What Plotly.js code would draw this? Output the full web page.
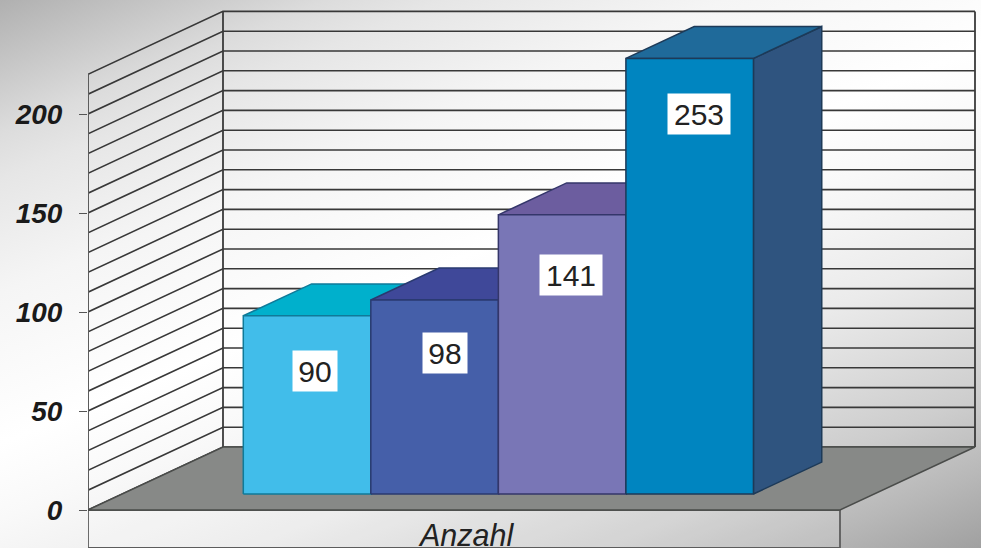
<!DOCTYPE html>
<html>
<head>
<meta charset="utf-8">
<script src="https://cdn.plot.ly/plotly-3.0.1.min.js"></script>
<style>
  html, body { margin: 0; padding: 0; width: 981px; height: 548px; overflow: hidden; }
  body { background: linear-gradient(158deg, #b0b0b0 0%, #dcdcdc 14%, #e6e6e6 19%, #f5f5f5 31%, #ffffff 47%, #f9f9f9 55%, #ebebeb 68%, #cdcdcd 84%, #b8b8b8 92%, #a0a0a0 100%); }
  #chart { width: 981px; height: 548px; }
</style>
</head>
<body>
<div id="chart"></div>
<script>
// Counts per group; the value axis stops at axisMax, so taller columns are cut off there.
const groupLabel = 'Anzahl';
const barValues = [90, 98, 141, 253];
const frontColors = ['#41bdea', '#455fa9', '#7976b6', '#0085c0'];
const topColors = ['#00b0cc', '#3f4899', '#6c5d9f', '#1f6a9a'];
const sideColors = ['#1f7fa8', '#33457f', '#544a86', '#2f547f'];
const edgeColors = ['#0f7a99', '#2a3a70', '#34366a', '#1d3a58'];
const labelDrop = [55, 53, 60, 56];
const labelShift = [8, 10.5, 9, 9];
const valueTicks = [0, 50, 100, 150, 200];
const axisMax = 220;
const gridStep = 10;

// Oblique projection: depth 0 is the front of the floor, depth 1 the back wall.
const depthX = 135 / 752;
const depthY = 63 / 1.98;
const barDepthStart = 0.254;
const barDepthEnd = 0.76;
const barWidth = 0.1696;
const barGroupStart = 0.1609;

function project(x, v, depth) {
  return [x + depth * depthX, v + depth * depthY];
}

function polygon(points, fill, edge, width) {
  return {
    type: 'scatter', mode: 'lines', hoverinfo: 'skip', cliponaxis: false,
    x: points.concat([points[0]]).map(p => p[0]),
    y: points.concat([points[0]]).map(p => p[1]),
    fill: 'toself', fillcolor: fill,
    line: { color: edge, width: width }
  };
}

function polyline(xs, ys, color, width) {
  return {
    type: 'scatter', mode: 'lines', hoverinfo: 'skip', cliponaxis: false,
    x: xs, y: ys, line: { color: color, width: width }
  };
}

const traces = [];

// Panel under the floor that carries the group label
const panelBottom = -19.2;
traces.push(polygon([[0, 0], [1, 0], [1, panelBottom], [0, panelBottom]], 'rgba(255,255,255,0.14)', '#5c5c5c', 1.8));

// Side wall and back wall rulings
const gx = [], gy = [];
for (let v = 0; v <= axisMax; v += gridStep) {
  const a = project(0, v, 0), b = project(0, v, 1), c = project(1, v, 1);
  gx.push(a[0], b[0], c[0], null);
  gy.push(a[1], b[1], c[1], null);
}
traces.push(polyline(gx, gy, '#383838', 1.6));
const wallEdges = [[0, 0, '#5c5c5c', 2], [0, 1, '#3a3a3a', 1.8], [1, 1, '#3a3a3a', 1.8]];
wallEdges.forEach(([x, d, color, width]) => {
  const a = project(x, 0, d), b = project(x, axisMax, d);
  traces.push(polyline([a[0], b[0]], [a[1], b[1]], color, width));
});

// Floor
traces.push(polygon([project(0, 0, 0), project(1, 0, 0), project(1, 0, 1), project(0, 0, 1)], '#878987', '#4a4c4a', 1.4));

// Columns, painted left to right so each one covers its neighbour's side
const annotations = [];
barValues.forEach((value, i) => {
  const h = Math.min(value, axisMax);
  const x0 = barGroupStart + i * barWidth;
  const x1 = x0 + barWidth;
  const d0 = barDepthStart, d1 = barDepthEnd;
  traces.push(polygon([project(x1, 0, d0), project(x1, 0, d1), project(x1, h, d1), project(x1, h, d0)], sideColors[i], edgeColors[i], 1.5));
  traces.push(polygon([project(x0, h, d0), project(x1, h, d0), project(x1, h, d1), project(x0, h, d1)], topColors[i], edgeColors[i], 1.5));
  traces.push(polygon([project(x0, 0, d0), project(x1, 0, d0), project(x1, h, d0), project(x0, h, d0)], frontColors[i], edgeColors[i], 1.5));

  const anchor = project((x0 + x1) / 2, h, d0);
  annotations.push({
    x: anchor[0], y: anchor[1], xref: 'x', yref: 'y',
    xshift: labelShift[i], yshift: -labelDrop[i], showarrow: false,
    text: String(value),
    font: { family: 'Liberation Sans, Arial, sans-serif', size: 30, color: '#222222' },
    bgcolor: '#ffffff', borderpad: 4,
    width: String(value).length * 18, height: 32, align: 'center'
  });
});

// Group label inside the panel
annotations.push({
  x: 0.5 + 1.5 / 752, y: -12.8, xref: 'x', yref: 'y', showarrow: false,
  text: '<i>' + groupLabel + '</i>',
  font: { family: 'Liberation Sans, Arial, sans-serif', size: 30.5, color: '#222222' }
});

const layout = {
  width: 981, height: 548,
  margin: { l: 88, r: 0, t: 0, b: 0, pad: 0 },
  paper_bgcolor: 'rgba(0,0,0,0)',
  plot_bgcolor: 'rgba(0,0,0,0)',
  showlegend: false,
  xaxis: { range: [0, 893 / 752], visible: false, fixedrange: true },
  yaxis: {
    range: [-38 / 1.98, 510 / 1.98], fixedrange: true,
    tickmode: 'array', tickvals: valueTicks, ticktext: valueTicks.map(String),
    ticks: 'outside', ticklen: 8, tickwidth: 1, tickcolor: '#555555',
    ticklabelstandoff: 11,
    showgrid: false, zeroline: false, showline: false,
    tickfont: { family: 'Liberation Sans, Arial, sans-serif', size: 28, color: '#1a1a1a', weight: 'bold', style: 'italic' }
  },
  annotations: annotations
};

Plotly.newPlot('chart', traces, layout, { displayModeBar: false, staticPlot: true });
</script>
</body>
</html>
